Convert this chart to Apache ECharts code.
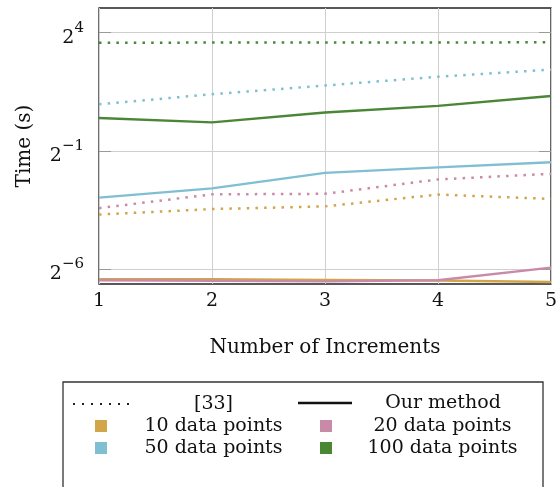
<!DOCTYPE html>
<html>
<head>
<meta charset="utf-8">
<script src="https://cdn.jsdelivr.net/npm/echarts@6/dist/echarts.min.js"></script>
<style>
html,body{margin:0;padding:0;background:#fff;}
#chart{width:560px;height:487px;}
</style>
</head>
<body>
<div id="chart"></div>
<script>
// x categories (number of increments)
const increments = [1, 2, 3, 4, 5];
// times in seconds, method [33] (dotted)
const ref10  = [0.078, 0.0915, 0.099, 0.140, 0.123];
const ref20  = [0.094, 0.141, 0.143, 0.218, 0.257];
const ref50  = [1.97, 2.64, 3.41, 4.41, 5.43];
const ref100 = [11.9, 12.0, 12.0, 12.0, 12.1];
// times in seconds, our method (solid)
const our10  = [0.0117, 0.0117, 0.0115, 0.0113, 0.0108];
const our20  = [0.0114, 0.0112, 0.0110, 0.0114, 0.0165];
const our50  = [0.128, 0.168, 0.264, 0.310, 0.361];
const our100 = [1.32, 1.16, 1.55, 1.88, 2.51];
// y tick values and their exponent labels
const yTickValues = [1 / 64, 0.5, 16];
const yTickExps = ['\u22126', '\u22121', '4'];
const xTickLabels = ['1', '2', '3', '4', '5'];
const sizeNames = ['10 data points', '20 data points', '50 data points', '100 data points'];
const methodNames = ['[33]', 'Our method'];

const colors = ['#d1a64b', '#c98aa8', '#80bfd2', '#4b8637'];
const FONT = 'DejaVu Serif';

const refSets = [ref10, ref20, ref50, ref100];
const ourSets = [our10, our20, our50, our100];
const pairs = arr => increments.map((x, i) => [x, arr[i]]);

const series = [];
refSets.forEach((arr, k) => {
  series.push({
    name: sizeNames[k], type: 'line', symbol: 'none', silent: true, animation: false,
    data: pairs(arr),
    lineStyle: { color: colors[k], width: 2.5, type: [2.5, 6.2], cap: 'butt' },
    itemStyle: { color: colors[k] }
  });
});
ourSets.forEach((arr, k) => {
  series.push({
    name: sizeNames[k], type: 'line', symbol: 'none', silent: true, animation: false,
    data: pairs(arr),
    lineStyle: { color: colors[k], width: 2.4, type: 'solid' },
    itemStyle: { color: colors[k] }
  });
});
methodNames.forEach(n => {
  series.push({ name: n, type: 'line', symbol: 'none', data: [], silent: true });
});

// dotted legend icon: 7 small squares
let dotPath = 'path://';
for (let i = 0; i < 7; i++) dotPath += 'M' + (i * 9) + ',0h2v2h-2Z';

function legendCell(name, icon, color, left, top, iw, ih, textW) {
  return {
    show: true, selectedMode: false, orient: 'horizontal', padding: 0, itemGap: 0,
    left: left, top: top, itemWidth: iw, itemHeight: ih,
    data: [{ name: name, icon: icon, itemStyle: { color: color, borderWidth: 0 } }],
    formatter: '{c|{name}}',
    textStyle: {
      fontFamily: FONT, fontSize: 19, color: '#111', lineHeight: 22,
      rich: { c: { width: textW, align: 'center', fontFamily: FONT, fontSize: 19, color: '#111', lineHeight: 22 } }
    }
  };
}

const legends = [
  legendCell(methodNames[0], dotPath, '#222', 73, 393, 56, 2, 159),
  legendCell(methodNames[1], 'rect', '#111', 298, 392, 54, 2.4, 172),
  legendCell(sizeNames[0], 'rect', colors[0], 95, 415, 12, 12, 203),
  legendCell(sizeNames[1], 'rect', colors[1], 320, 415, 12, 12, 211),
  legendCell(sizeNames[2], 'rect', colors[2], 95, 437, 12, 12, 203),
  legendCell(sizeNames[3], 'rect', colors[3], 320, 437, 12, 12, 211)
];

const yMin = 0.0102, yMax = 33;

const option = {
  backgroundColor: '#fff',
  animation: false,
  grid: { left: 99, right: 7, top: 8, bottom: 203, show: true, borderColor: '#222', borderWidth: 1.3, backgroundColor: 'transparent' },
  xAxis: {
    type: 'value', min: 1, max: 5, interval: 1,
    name: 'Number of Increments', nameLocation: 'middle', nameGap: 54,
    nameTextStyle: { fontFamily: FONT, fontSize: 20, color: '#111' },
    axisLine: { show: false }, axisTick: { show: false },
    axisLabel: { fontFamily: FONT, fontSize: 19, color: '#111', margin: 8,
      formatter: v => xTickLabels[increments.indexOf(v)] || '' },
    splitLine: { show: true, lineStyle: { color: '#cfcfcf', width: 1 } }
  },
  yAxis: [{
    type: 'log', logBase: 2, min: yMin, max: yMax, position: 'left',
    name: 'Time (s)', nameLocation: 'middle', nameGap: 64,
    nameTextStyle: { fontFamily: FONT, fontSize: 20, color: '#111' },
    axisLine: { show: false },
    axisTick: { show: true, inside: true, length: 12, customValues: yTickValues, lineStyle: { color: '#9a9a9a' } },
    axisLabel: {
      show: true, margin: 15, customValues: yTickValues,
      formatter: v => {
        const i = yTickValues.findIndex(t => Math.abs(t - v) < 1e-9);
        return i < 0 ? '' : '{b|2}{s|' + yTickExps[i] + '}';
      },
      rich: {
        b: { fontFamily: FONT, fontSize: 19, color: '#111', padding: [10, 0, 0, 0] },
        s: { fontFamily: FONT, fontSize: 15, color: '#111', padding: [0, 0, 10, 0] }
      }
    },
    splitLine: { show: true, customValues: yTickValues, lineStyle: { color: '#cfcfcf', width: 1 } }
  }, {
    type: 'log', logBase: 2, min: yMin, max: yMax, position: 'right',
    axisLine: { show: false },
    axisTick: { show: true, inside: true, length: 12, customValues: yTickValues, lineStyle: { color: '#9a9a9a' } },
    axisLabel: { show: false },
    splitLine: { show: false }
  }],
  legend: legends,
  graphic: [{
    type: 'rect', silent: true, z: 100,
    shape: { x: 63, y: 382, width: 480, height: 120 },
    style: { fill: 'none', stroke: '#333', lineWidth: 1.3 }
  }],
  series: series
};

const chart = echarts.init(document.getElementById('chart'), null, { renderer: 'canvas' });
chart.setOption(option);
</script>
</body>
</html>
